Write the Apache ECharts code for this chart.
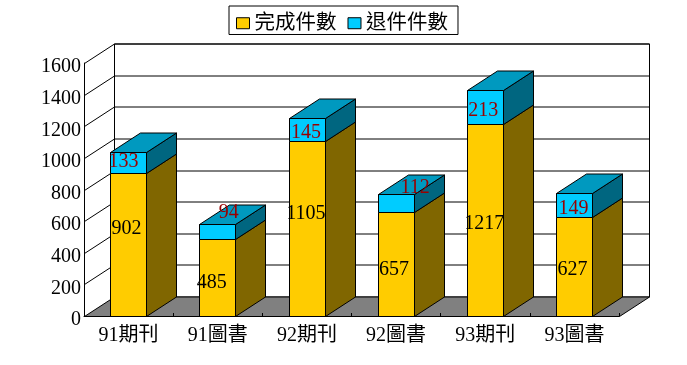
<!DOCTYPE html>
<html><head><meta charset="utf-8">
<script src="https://cdn.jsdelivr.net/npm/echarts@6/dist/echarts.min.js"></script>
<style>html,body{margin:0;padding:0;background:#fff}#c{width:687px;height:365px}</style>
</head><body><div id="c"></div>
<script>
const categories = ['91期刊','91圖書','92期刊','92圖書','93期刊','93圖書'];
const completed = [902,485,1105,657,1217,627];
const returned = [133,94,145,112,213,149];
const axisTicks = [0,200,400,600,800,1000,1200,1400,1600];
const seriesNames = ['完成件數','退件件數'];

// layout only: label nudges in pixels, relative to the middle of each segment
const completedNudge = [[-2,-16],[-6,5],[-1,-15],[-2,5],[-1,3],[-2,3]];
const returnedNudge = [[-5,-1],[11,-19],[-1,3],[19,-16],[-2,3],[-1,3]];

const DX = 30, DY = -19.5, BAR = 36;
const FONT = '"Liberation Serif","Noto Sans CJK TC",serif';
const LINE = {stroke:'#000',lineWidth:1,lineJoin:'miter'};
const px = v => Math.round(v) + 0.5;
const poly = (pts, fill) => ({type:'polygon',shape:{points:pts},style:Object.assign({fill:fill},LINE)});

function renderWall(params, api){
  const cs = params.coordSys;
  const v = api.value(0);
  const y = px(api.coord([0,v])[1]);
  const xl = px(cs.x), xr = px(cs.x+cs.width);
  const children = [];
  if(v === 0){
    const top = px(api.coord([0,axisTicks[axisTicks.length-1]])[1]);
    children.push({type:'rect',shape:{x:xl+DX,y:top+DY,width:xr-xl,height:y-top},style:Object.assign({fill:'#fff'},LINE)});
    children.push(poly([[xl,y],[xr,y],[xr+DX,y+DY],[xl+DX,y+DY]],'#808080'));
  } else {
    children.push({type:'line',shape:{x1:xl,y1:y,x2:xl+DX,y2:y+DY},style:LINE});
    children.push({type:'line',shape:{x1:xl+DX,y1:y+DY,x2:xr+DX,y2:y+DY},style:LINE});
  }
  return {type:'group',children:children};
}

function makeBar(front, side, top, textColor, nudge, drawTop){
  return function(params, api){
    const i = api.value(0), lo = api.value(1), hi = api.value(2), val = api.value(3);
    const cx = api.coord([i,0])[0];
    const x0 = px(cx-BAR/2-0.3), x1 = x0+BAR;
    const y0 = px(api.coord([i,lo])[1]), y1 = px(api.coord([i,hi])[1]);
    const label = {type:'text',x:cx+nudge[i][0],y:(y0+y1)/2+nudge[i][1],
      style:{text:String(val),fill:textColor,font:'20px '+FONT,align:'center',verticalAlign:'middle'}};
    const kids = [
      {type:'rect',shape:{x:x0,y:y1,width:BAR,height:y0-y1},style:Object.assign({fill:front},LINE)}
    ];
    if(!drawTop) kids.push(label);
    kids.push(poly([[x1,y0],[x1+DX,y0+DY],[x1+DX,y1+DY],[x1,y1]],side));
    if(drawTop){
      kids.push(poly([[x0,y1],[x1,y1],[x1+DX,y1+DY],[x0+DX,y1+DY]],top));
      kids.push(label);
    }
    return {type:'group',children:kids};
  };
}

const completedRows = categories.map((c,i)=>[i,0,completed[i],completed[i]]);
const returnedRows = categories.map((c,i)=>[i,completed[i],completed[i]+returned[i],returned[i]]);

const chart = echarts.init(document.getElementById('c'),null,{renderer:'canvas'});
chart.setOption({
  animation:false,
  backgroundColor:'#fff',
  textStyle:{fontFamily:FONT},
  legend:{
    left:229,top:6,orient:'horizontal',
    padding:[7,10,1,7],itemGap:11,itemWidth:13,itemHeight:11,
    borderColor:'#000',borderWidth:1,backgroundColor:'#fff',
    icon:'rect',
    textStyle:{fontFamily:FONT,fontSize:20.5,color:'#000'},
    selectedMode:false,
    data:[
      {name:seriesNames[0],itemStyle:{color:'#FFCC00',borderColor:'#000',borderWidth:1}},
      {name:seriesNames[1],itemStyle:{color:'#00CCFF',borderColor:'#000',borderWidth:1}}
    ]
  },
  grid:{left:84,right:68,top:63,bottom:49,containLabel:false},
  xAxis:{
    type:'category',data:categories,
    axisLine:{show:true,lineStyle:{color:'#000',width:1}},
    axisTick:{show:true,inside:true,length:3,alignWithLabel:false,lineStyle:{color:'#000'}},
    axisLabel:{interval:0,margin:10,color:'#000',fontFamily:FONT,fontSize:20},
    splitLine:{show:false},z:5
  },
  yAxis:{
    type:'value',min:0,max:1600,interval:200,
    axisLine:{show:true,lineStyle:{color:'#000',width:1}},
    axisTick:{show:false},
    axisLabel:{margin:3,color:'#000',fontFamily:FONT,fontSize:20,showMinLabel:true,showMaxLabel:true,
      verticalAlign:'top',lineHeight:8,formatter:v=>String(v)},
    splitLine:{show:false},z:5
  },
  series:[
    {type:'custom',name:'wall',silent:true,z:1,renderItem:renderWall,data:axisTicks.map(t=>[t]),encode:{y:0}},
    {type:'custom',name:seriesNames[0],z:2,itemStyle:{color:'#FFCC00'},
     renderItem:makeBar('#FFCC00','#806600','#806600','#000',completedNudge,false),
     data:completedRows,encode:{x:0,y:2}},
    {type:'custom',name:seriesNames[1],z:3,itemStyle:{color:'#00CCFF'},
     renderItem:makeBar('#00CCFF','#006680','#0099BF','#990000',returnedNudge,true),
     data:returnedRows,encode:{x:0,y:2}}
  ]
});
</script></body></html>
